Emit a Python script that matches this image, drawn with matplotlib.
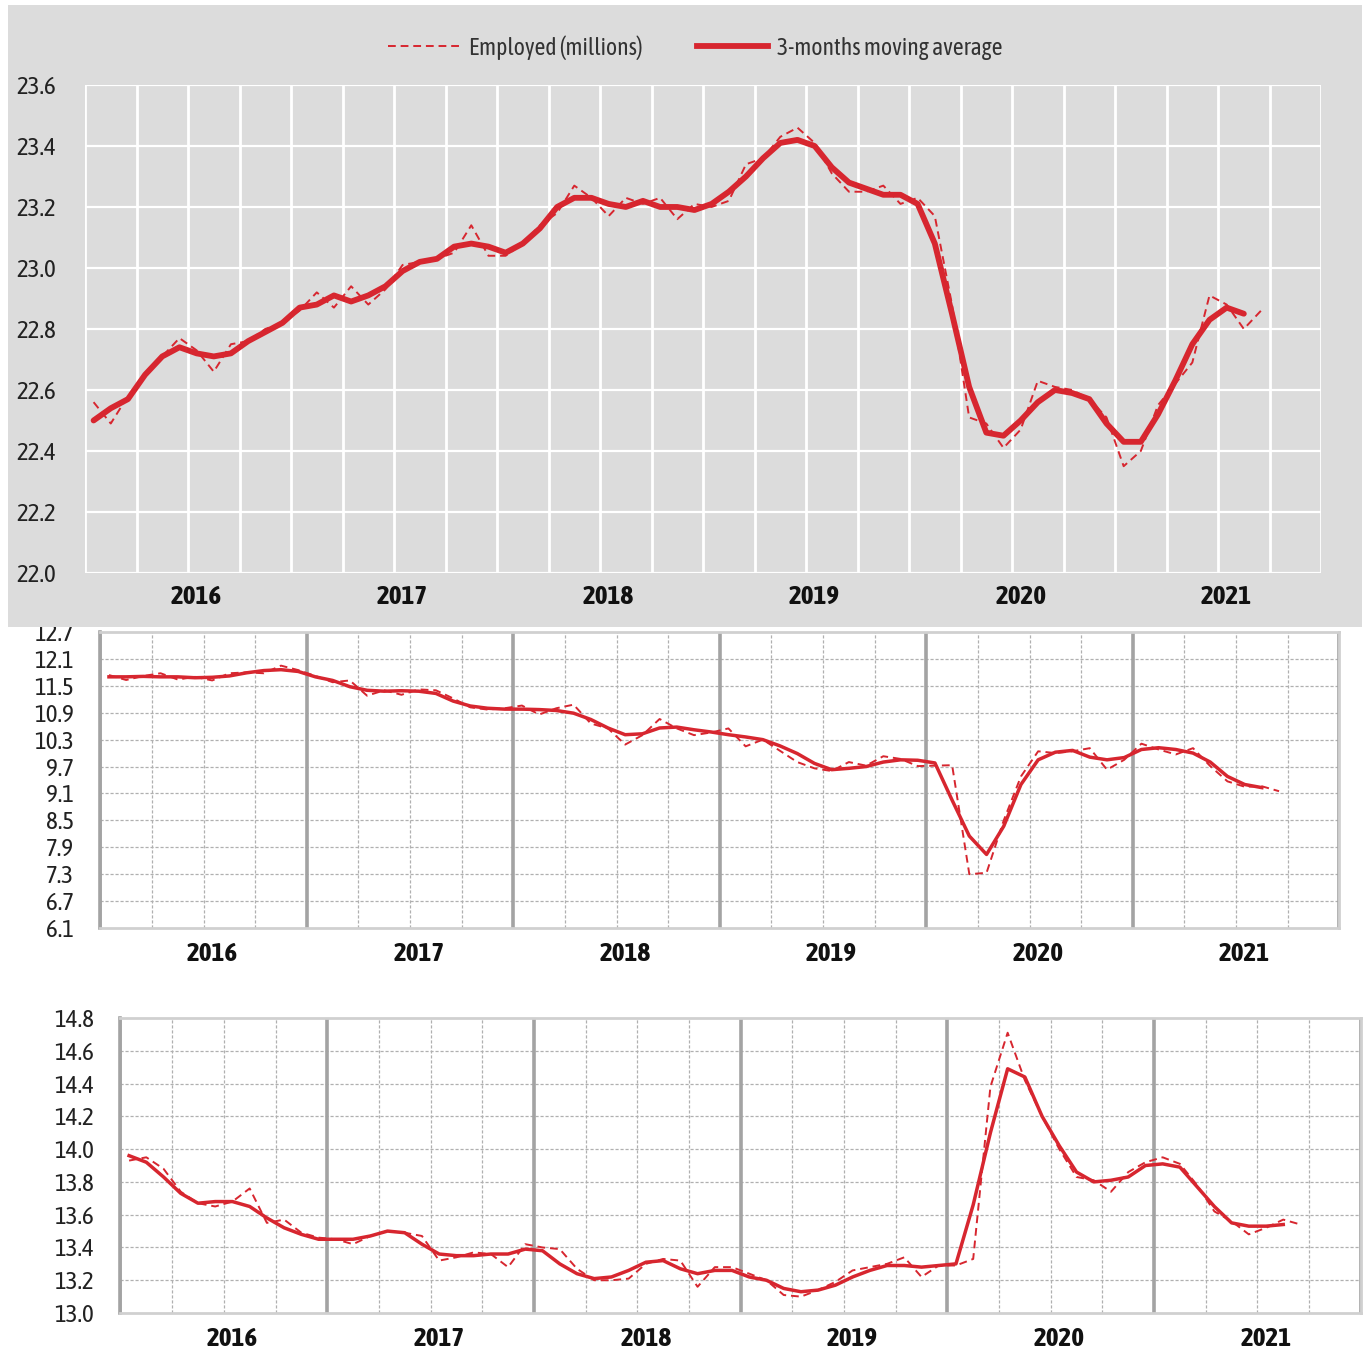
import matplotlib
matplotlib.use("Agg")
import matplotlib.pyplot as plt
from matplotlib.patches import Rectangle
from matplotlib.lines import Line2D
import numpy as np

# months from Jan 2016, one value per month
years = ['2016', '2017', '2018', '2019', '2020', '2021']

employed = [22.56, 22.49, 22.58, 22.65, 22.71, 22.77, 22.73, 22.66, 22.75, 22.76, 22.80, 22.82,
            22.86, 22.92, 22.87, 22.94, 22.88, 22.93, 23.01, 23.02, 23.03, 23.05, 23.14, 23.04,
            23.04, 23.08, 23.14, 23.18, 23.27, 23.23, 23.17, 23.23, 23.21, 23.23, 23.16, 23.21,
            23.20, 23.22, 23.34, 23.36, 23.43, 23.46, 23.41, 23.31, 23.25, 23.25, 23.27, 23.21,
            23.23, 23.17, 22.88, 22.51, 22.49, 22.41, 22.47, 22.63, 22.61, 22.60, 22.57, 22.51,
            22.35, 22.40, 22.55, 22.62, 22.69, 22.91, 22.88, 22.80, 22.86]
employed_ma = [22.50, 22.54, 22.57, 22.65, 22.71, 22.74, 22.72, 22.71, 22.72, 22.76, 22.79, 22.82,
               22.87, 22.88, 22.91, 22.89, 22.91, 22.94, 22.99, 23.02, 23.03, 23.07, 23.08, 23.07,
               23.05, 23.08, 23.13, 23.20, 23.23, 23.23, 23.21, 23.20, 23.22, 23.20, 23.20, 23.19,
               23.21, 23.25, 23.30, 23.36, 23.41, 23.42, 23.40, 23.33, 23.28, 23.26, 23.24, 23.24,
               23.21, 23.08, 22.85, 22.61, 22.46, 22.45, 22.50, 22.56, 22.60, 22.59, 22.57, 22.49,
               22.43, 22.43, 22.52, 22.63, 22.75, 22.83, 22.87, 22.85]

series_b = [11.74, 11.63, 11.72, 11.78, 11.64, 11.70, 11.62, 11.78, 11.80, 11.78, 11.95, 11.85,
            11.72, 11.58, 11.62, 11.28, 11.40, 11.30, 11.42, 11.40, 11.22, 11.02, 10.97, 11.00,
            11.06, 10.86, 11.00, 11.08, 10.66, 10.55, 10.19, 10.40, 10.76, 10.55, 10.40, 10.46,
            10.55, 10.15, 10.30, 10.05, 9.80, 9.66, 9.60, 9.80, 9.72, 9.93, 9.87, 9.71,
            9.72, 9.73, 7.30, 7.33, 8.50, 9.48, 10.04, 10.00, 10.04, 10.11, 9.63, 9.85,
            10.21, 10.08, 9.97, 10.11, 9.71, 9.37, 9.25, 9.26, 9.15]
series_b_ma = [11.70, 11.70, 11.71, 11.70, 11.70, 11.68, 11.69, 11.72, 11.79, 11.84, 11.86, 11.82,
               11.70, 11.62, 11.48, 11.40, 11.38, 11.39, 11.38, 11.33, 11.16, 11.05, 11.00, 10.98,
               10.98, 10.97, 10.95, 10.89, 10.75, 10.56, 10.41, 10.43, 10.56, 10.58, 10.52, 10.47,
               10.41, 10.36, 10.30, 10.16, 9.99, 9.77, 9.63, 9.66, 9.70, 9.80, 9.85, 9.84,
               9.78, 8.95, 8.15, 7.74, 8.37, 9.30, 9.85, 10.02, 10.06, 9.91, 9.85, 9.90,
               10.08, 10.12, 10.08, 10.00, 9.80, 9.48, 9.30, 9.23]

series_c = [13.93, 13.95, 13.88, 13.74, 13.67, 13.65, 13.68, 13.76, 13.55, 13.57, 13.49, 13.46,
            13.45, 13.42, 13.47, 13.50, 13.49, 13.47, 13.32, 13.34, 13.37, 13.36, 13.28, 13.42,
            13.40, 13.39, 13.27, 13.20, 13.20, 13.21, 13.30, 13.33, 13.32, 13.16, 13.28, 13.28,
            13.24, 13.20, 13.11, 13.10, 13.14, 13.19, 13.26, 13.28, 13.30, 13.34, 13.22, 13.29,
            13.29, 13.33, 14.38, 14.71, 14.42, 14.20, 14.00, 13.83, 13.81, 13.74, 13.86, 13.92,
            13.95, 13.91, 13.78, 13.62, 13.56, 13.48, 13.52, 13.57, 13.54]
series_c_ma = [13.96, 13.92, 13.83, 13.73, 13.67, 13.68, 13.68, 13.65, 13.58, 13.52, 13.48, 13.45,
               13.45, 13.45, 13.47, 13.50, 13.49, 13.42, 13.36, 13.35, 13.35, 13.36, 13.36, 13.39,
               13.38, 13.30, 13.24, 13.21, 13.22, 13.26, 13.31, 13.32, 13.27, 13.24, 13.26, 13.26,
               13.22, 13.20, 13.15, 13.13, 13.14, 13.17, 13.22, 13.26, 13.29, 13.29, 13.28, 13.29,
               13.30, 13.66, 14.10, 14.49, 14.44, 14.20, 14.02, 13.86, 13.80, 13.81, 13.83, 13.90,
               13.91, 13.89, 13.77, 13.65, 13.55, 13.53, 13.53, 13.54]

RED = '#d7262f'
GRAY_BG = '#dcdcdc'
plt.rcParams['font.family'] = ['Asap Condensed', 'DejaVu Sans']

fig = plt.figure(figsize=(13.69, 13.51), dpi=100)

# grey panel behind the first chart (it also clips the top label of the second chart)
panel = Rectangle((0.0058, 0.5360), 0.989, 0.4603, transform=fig.transFigure,
                  facecolor=GRAY_BG, edgecolor='none', zorder=0.5)
fig.add_artist(panel)

year_pos = [6 + 12 * k for k in range(len(years))]


def style_common(ax, yticks):
    ax.set_xlim(-0.5, 71.5)
    ax.set_ylim(yticks[0], yticks[-1])
    ax.set_yticks(yticks)
    ax.set_yticklabels(['%.1f' % t for t in yticks], fontsize=18, color='#222222')
    ax.set_xticks(year_pos)
    ax.set_xticklabels(years, fontsize=19.5, fontweight='bold', color='#111111')
    ax.tick_params(axis='both', length=0)


# --- top chart ---
ax1 = fig.add_axes([0.0621, 0.5759, 0.9029, 0.3612], zorder=1)
ax1.set_facecolor(GRAY_BG)
yt1 = [22.0, 22.2, 22.4, 22.6, 22.8, 23.0, 23.2, 23.4, 23.6]
style_common(ax1, yt1)
ax1.tick_params(axis='y', pad=21)
ax1.tick_params(axis='x', pad=8)
for q in np.arange(-0.5, 72, 3):
    ax1.axvline(q, color='white', lw=2, zorder=1)
for t in yt1:
    ax1.axhline(t, color='white', lw=1.6, zorder=1)
for s in ax1.spines.values():
    s.set_visible(False)
ax1.plot(range(len(employed)), employed, color=RED, lw=1.4, ls=(0, (4, 2.5)), zorder=3)
ax1.plot(range(len(employed_ma)), employed_ma, color=RED, lw=4.2, zorder=4,
         solid_capstyle='round', solid_joinstyle='round')

handles = [Line2D([], [], color=RED, lw=1.4, ls=(0, (4, 2.5))),
           Line2D([], [], color=RED, lw=4.2)]
fig.legend(handles, ['Employed (millions)', '3-months moving average'], loc='center',
           bbox_to_anchor=(0.508, 0.965), ncol=2, frameon=False, fontsize=17,
           handlelength=3.0, handletextpad=0.4, columnspacing=2.3, labelcolor='#333333')


def style_white(ax, yticks):
    style_common(ax, yticks)
    ax.tick_params(axis='y', pad=19)
    ax.tick_params(axis='x', pad=9)
    for t in yticks[1:-1]:
        ax.axhline(t, color='#b0b0b0', lw=0.9, ls=(0, (2.5, 1.5)), zorder=1)
    for k, q in enumerate(np.arange(-0.5, 72, 3)):
        if k % 4 == 0:
            ax.axvline(q, color='#a3a3a3', lw=2.6, zorder=1.5)
        else:
            ax.axvline(q, color='#b0b0b0', lw=0.9, ls=(0, (2.5, 1.5)), zorder=1)
    for side in ['top', 'right', 'bottom']:
        ax.spines[side].set_color('#d0d0d0')
        ax.spines[side].set_linewidth(2)
    ax.spines['left'].set_color('#a3a3a3')
    ax.spines['left'].set_linewidth(2.6)


# --- middle chart ---
ax2 = fig.add_axes([0.0733, 0.3131, 0.9050, 0.2191], zorder=0)
yt2 = [6.1, 6.7, 7.3, 7.9, 8.5, 9.1, 9.7, 10.3, 10.9, 11.5, 12.1, 12.7]
style_white(ax2, yt2)
ax2.plot(range(len(series_b)), series_b, color=RED, lw=1.4, ls=(0, (4, 2.5)), zorder=3)
ax2.plot(range(len(series_b_ma)), series_b_ma, color=RED, lw=2.5, zorder=4)

# --- bottom chart ---
ax3 = fig.add_axes([0.0880, 0.0281, 0.9060, 0.2184], zorder=0)
yt3 = [13.0, 13.2, 13.4, 13.6, 13.8, 14.0, 14.2, 14.4, 14.6, 14.8]
style_white(ax3, yt3)
ax3.plot(range(len(series_c)), series_c, color=RED, lw=1.4, ls=(0, (4, 2.5)), zorder=3)
ax3.plot(range(len(series_c_ma)), series_c_ma, color=RED, lw=2.5, zorder=4)

fig.savefig('out.png', dpi=100)
